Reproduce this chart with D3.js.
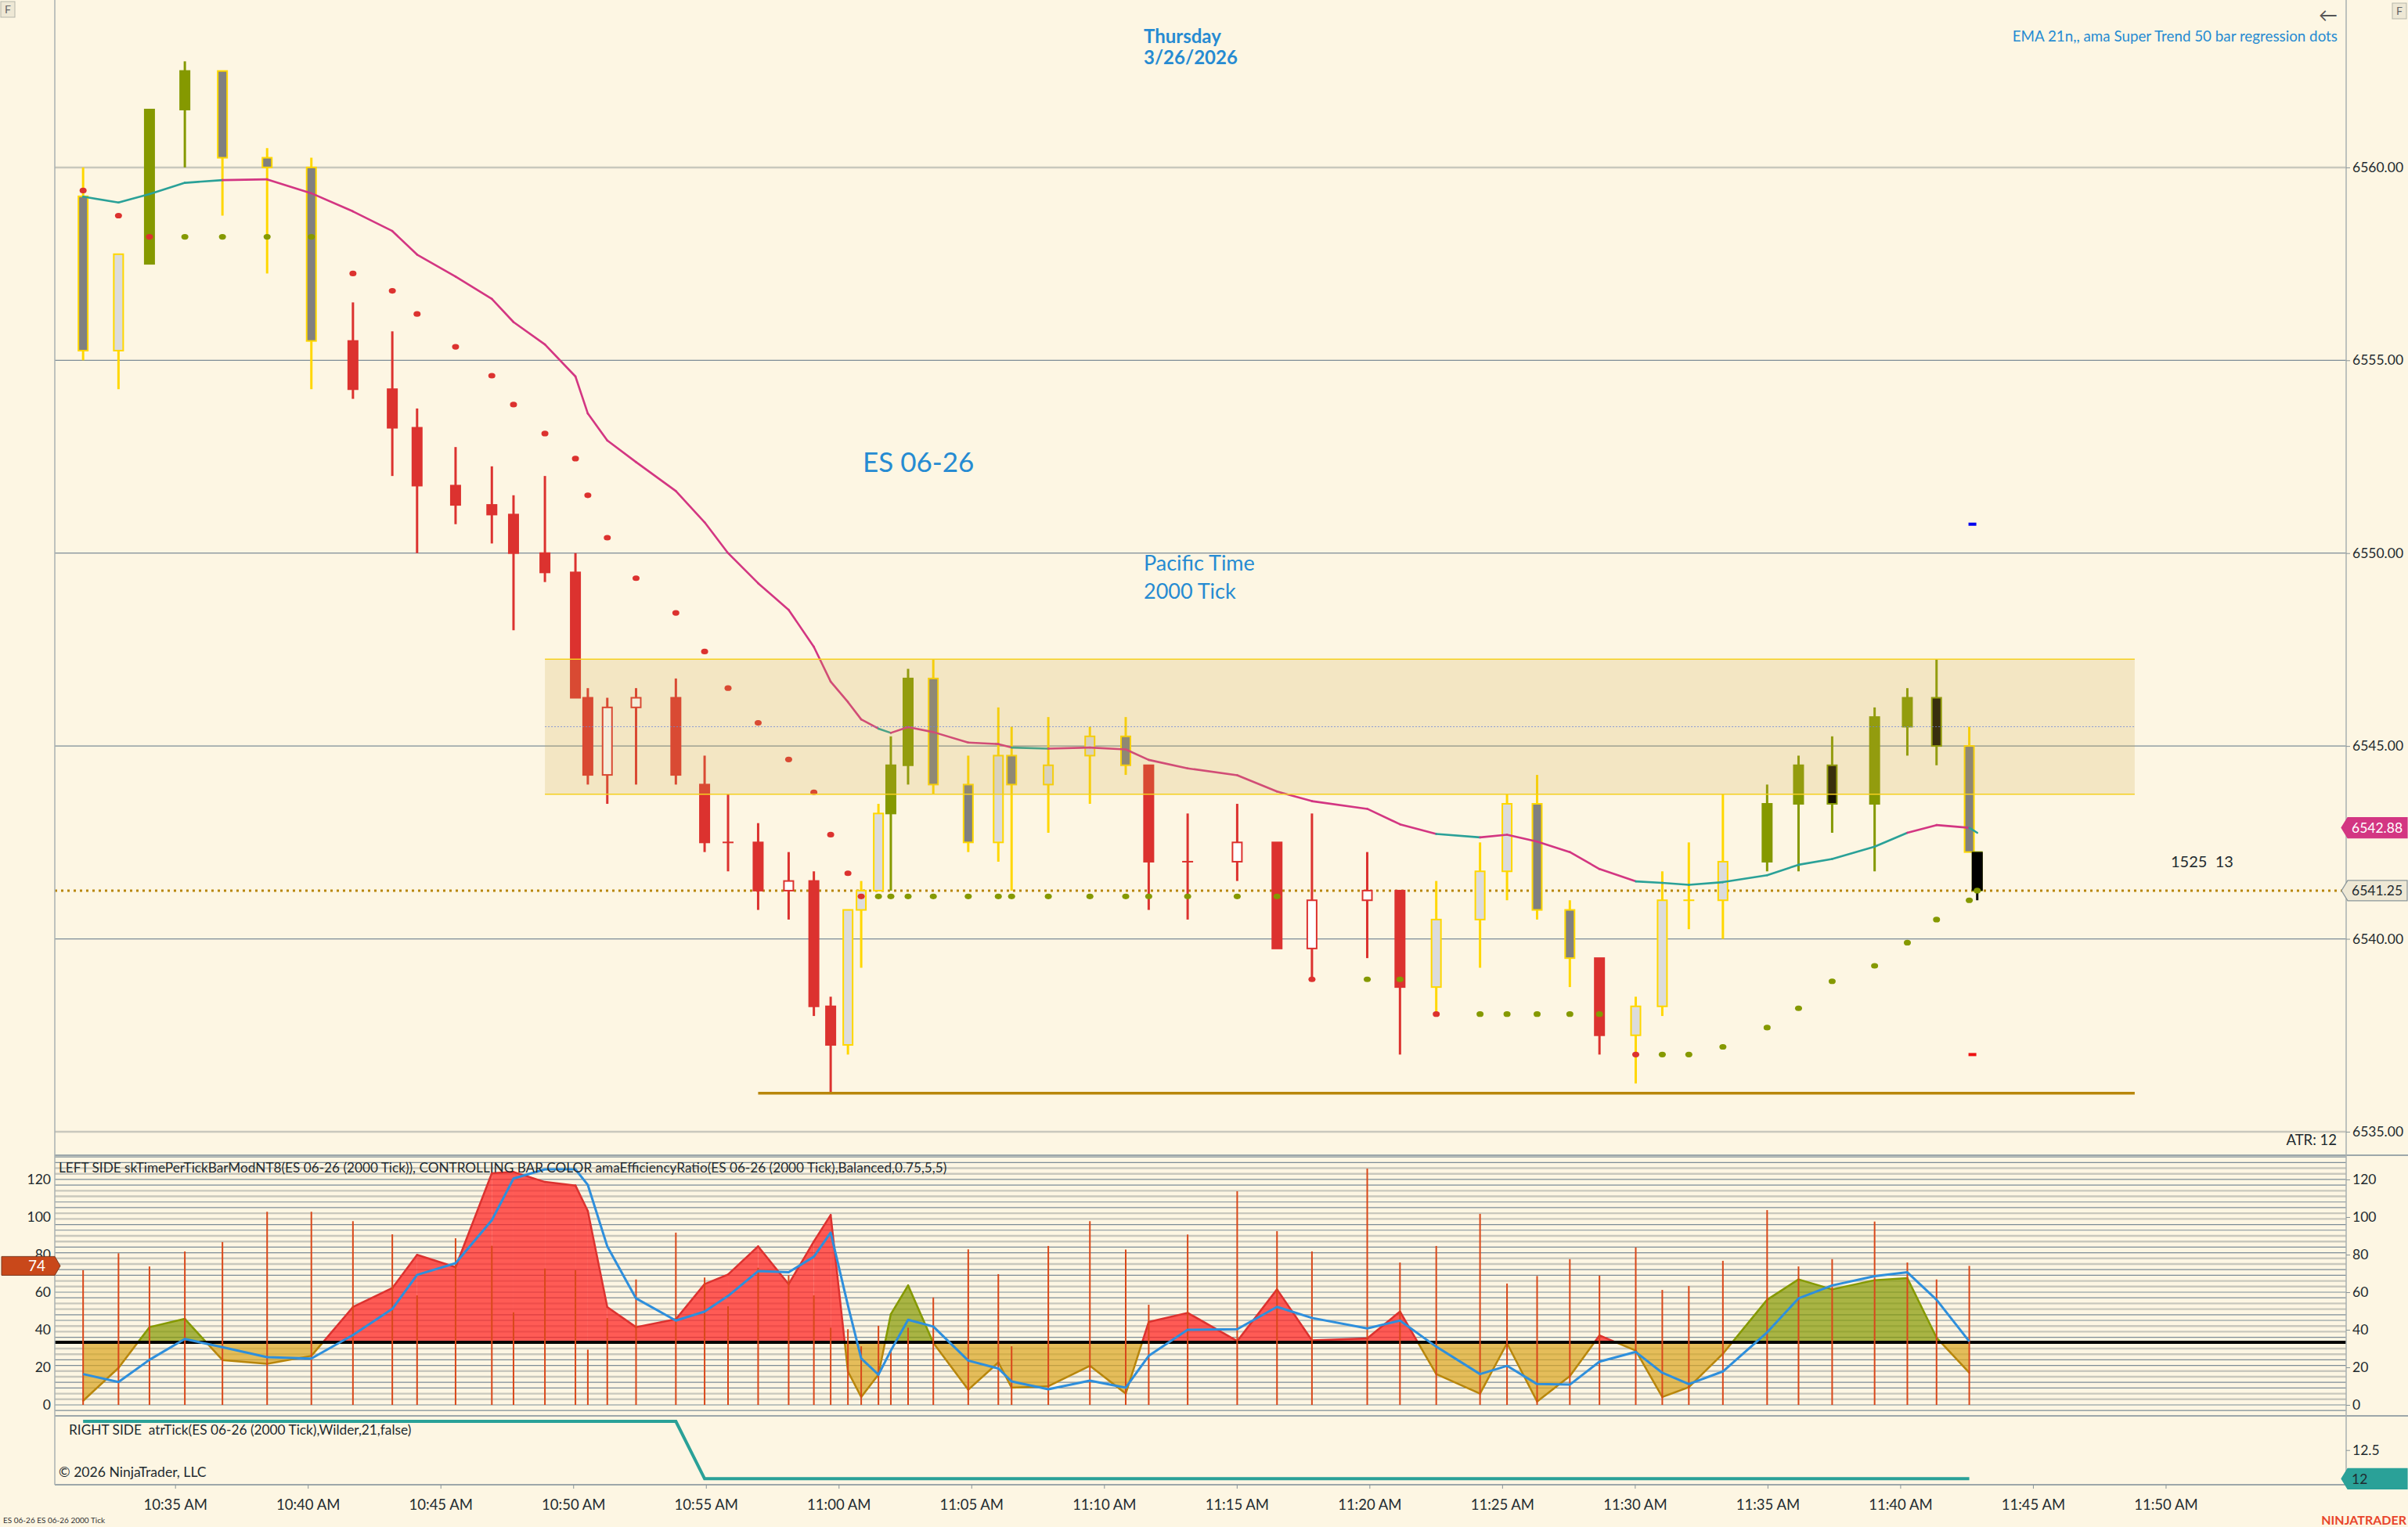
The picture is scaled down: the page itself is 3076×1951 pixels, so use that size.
<!DOCTYPE html>
<html>
<head>
<meta charset="utf-8">
<script src="https://cdn.jsdelivr.net/npm/d3@7"></script>
<style>
  body { margin: 0; background: #fdf6e3; }
  text { font-family: Lato, "Open Sans", sans-serif; }
</style>
</head>
<body>
<div id="chart"></div>
<script>
// ---- data ----
var barTimes = ['10:31:32','10:32:52','10:34:02','10:35:22','10:36:47','10:38:28','10:40:08','10:41:42','10:43:11','10:44:07',
  '10:45:34','10:46:56','10:47:45','10:48:56','10:50:05','10:50:33','10:51:17','10:52:22','10:53:52','10:54:57',
  '10:55:50','10:56:58','10:58:07','10:59:04','10:59:42','11:00:21','11:00:51','11:01:30','11:01:58','11:02:37',
  '11:03:34','11:04:53','11:06:01','11:06:31','11:07:54','11:09:28','11:10:49','11:11:41','11:13:09','11:15:01',
  '11:16:31','11:17:50','11:19:55','11:21:09','11:22:31','11:24:10','11:25:11','11:26:19','11:27:33','11:28:40',
  '11:30:02','11:31:02','11:32:02','11:33:19','11:34:59','11:36:10','11:37:26','11:39:02','11:40:16','11:41:22',
  '11:42:36','11:42:54'];

var opens = [6559.25,6555.25,6557.5,6561.5,6562.5,6560.25,6560,6555.5,6554.25,6553.25,
  6551.75,6551.25,6551,6550,6549.5,6546.25,6544.25,6546,6546.25,6544,
  6542.5,6542.5,6541.25,6541.5,6538.25,6537.25,6540.75,6541.25,6543.25,6544.5,
  6546.75,6544,6542.5,6544.75,6544,6544.75,6545.25,6544.5,6542,6542,
  6542.5,6539.75,6541,6541.25,6538.75,6540.5,6541.75,6543.5,6540.75,6539.5,
  6537.5,6538.25,6541,6541,6542,6543.5,6544.5,6543.5,6545.5,6546.25,
  6545,6542.25];
var highs = [6560,6557.75,6561.5,6562.75,6562.5,6560.5,6560.25,6556.5,6555.75,6553.75,
  6552.75,6552.25,6551.5,6552,6550,6546.5,6546.25,6546.5,6546.75,6544.75,
  6543.75,6543,6542.25,6541.75,6538.5,6540.75,6541.5,6543.5,6545.25,6547,
  6547.25,6544.75,6546,6545.5,6545.75,6545.5,6545.75,6544.5,6543.25,6543.5,
  6542.5,6543.25,6542.25,6541.25,6541.5,6542.5,6543.75,6544.25,6541,6539.5,
  6538.5,6541.75,6542.5,6543.75,6544,6544.75,6545.25,6546,6546.5,6547.25,
  6545.5,6542.25];
var lows = [6555,6554.25,6557.5,6560,6558.75,6557.25,6554.25,6554,6552,6550,
  6550.75,6550.25,6548,6549.25,6546.25,6544,6543.5,6544,6544,6542.25,
  6541.75,6540.75,6540.5,6538,6536,6537,6539.25,6541.25,6541.25,6544,
  6543.75,6542.25,6542,6541.25,6542.75,6543.5,6544.25,6540.75,6540.5,6541.5,
  6539.75,6539,6539.5,6537,6538,6539.25,6541,6540.5,6538.75,6537,
  6536.25,6538,6540.25,6540,6541.75,6541.75,6542.75,6541.75,6544.75,6544.5,
  6542.25,6541];
var closes = [6555.25,6557.75,6561.5,6562.5,6560.25,6560,6555.5,6554.25,6553.25,6551.75,
  6551.25,6551,6550,6549.5,6546.25,6544.25,6546,6546.25,6544.25,6542.5,
  6542.5,6541.25,6541.5,6538.25,6537.25,6540.75,6541.25,6543.25,6544.5,6546.75,
  6544,6542.5,6544.75,6544,6544.5,6545.25,6544.5,6542,6542,6542.5,
  6539.75,6541,6541.25,6538.75,6540.5,6541.75,6543.5,6540.75,6539.5,6537.5,
  6538.25,6541,6541,6542,6543.5,6544.5,6543.5,6545.75,6546.25,6545,
  6542.25,6541.25];

// efficiency-ratio regime per bar: B bull, S bear, N neutral
var regime = 'NNBBNNNSSSSSSSSSSSSSSSSSSNNNBBNNNNNNNSSSSSSSNNNNNSNNNNBBBBBBNB'.split('');

// super trend regression dots
var stDots = [6559.4,6558.75,6558.2,6558.2,6558.2,6558.2,6558.2,6557.25,6556.8,6556.2,
  6555.35,6554.6,6553.85,6553.1,6552.45,6551.5,6550.4,6549.35,6548.45,6547.45,
  6546.5,6545.6,6544.65,6543.8,6542.7,6541.7,6541.1,6541.1,6541.1,6541.1,
  6541.1,6541.1,6541.1,6541.1,6541.1,6541.1,6541.1,6541.1,6541.1,6541.1,
  6541.1,6538.95,6538.95,6538.95,6538.05,6538.05,6538.05,6538.05,6538.05,6538.05,
  6537,6537,6537,6537.2,6537.7,6538.2,6538.9,6539.3,6539.9,6540.5,
  6541,6541.25];
var stDir = [-1,-1,-1,1,1,1,1,
  -1,-1,-1,-1,-1,-1,-1,-1,-1,-1,
  -1,-1,-1,-1,-1,-1,-1,-1,-1,-1,
  1,1,1,1,1,1,1,1,1,1,1,1,1,1,
  -1,1,1,-1,1,1,1,1,1,-1,
  1,1,1,1,1,1,1,1,1,1,1];

// EMA 21 and its slope state
var ema21 = [6559.24,6559.09,6559.31,6559.6,6559.67,6559.69,6559.33,6558.86,6558.35,6557.74,
  6557.17,6556.59,6555.99,6555.41,6554.58,6553.62,6552.92,6552.36,6551.61,6550.8,
  6550.0,6549.22,6548.53,6547.57,6546.67,6546.14,6545.69,6545.45,6545.34,6545.49,
  6545.36,6545.09,6545.05,6544.96,6544.93,6544.96,6544.91,6544.64,6544.42,6544.24,
  6543.82,6543.57,6543.37,6542.97,6542.72,6542.63,6542.7,6542.52,6542.25,6541.81,
  6541.49,6541.45,6541.4,6541.47,6541.65,6541.92,6542.07,6542.39,6542.75,6542.95,
  6542.88,6542.75];
var emaSlope = [1,1,1,1,1,-1,
  -1,-1,-1,-1,-1,-1,-1,-1,-1,-1,
  -1,-1,-1,-1,-1,-1,-1,-1,-1,-1,
  -1,-1,
  1,
  -1,-1,-1,-1,-1,
  1,
  -1,-1,-1,-1,-1,-1,-1,-1,-1,-1,
  1,
  -1,-1,-1,-1,-1,
  1,1,1,1,1,1,1,1,
  -1,-1,
  1];

// lower panels (computed on closed bars only)
var timePerTick = [71.7,80.7,73.7,81.7,86.7,102.8,102.8,97.8,90.8,58.3,
  88.7,84.7,49.3,72.6,71.7,29.4,46.2,66.8,91.7,67.8,
  52.5,73,69,58.3,41.1,40.3,31.2,42.1,29.2,41.1,
  57.2,82.8,69.6,31.2,84.6,97.8,82.7,53.3,90.7,113.7,
  92.5,81.7,125.8,75.8,84.6,101.7,64.6,68.6,77.6,68.8,
  83.8,61.2,63.3,76.7,103.7,73.7,77.6,97.6,75.8,66.8,
  74];
var effRatio = [2.2,19.7,41.4,45.8,23.9,21.9,26.1,52.1,62.2,79.9,
  73.3,123.3,124,118.7,116.8,103.2,52.1,41.4,45.6,64.3,
  69.4,84.4,64.3,87,101.1,17.8,4.2,16.1,48.3,63.6,
  33,8.1,22.6,9.2,9.9,20.8,6,44.2,49,34,
  61.5,34.4,35.4,49.7,16.4,6,32.8,1.8,15.3,37,
  28.9,4.2,9.4,27.2,56,66.8,61.5,66.4,67.5,35.8,
  17.1];
var effSmooth = [16.4,12.2,24,35.1,30.7,25.4,24.7,37.2,51.1,69.2,
  75.4,98.3,120.5,125.4,125.4,117.1,84.4,56.7,44.9,49.7,
  58,71.2,70.6,78.9,91.7,53,24.7,16.1,28.9,45.3,
  41.7,23.6,19.4,12.5,8.3,12.9,9.2,26.1,40,40.3,
  52.2,46.3,40.7,44.9,31,16.4,20.8,11.1,10.8,23,
  28.2,17.1,11.1,17.8,38.6,56.7,63.6,68.5,70.6,56,
  33.8];
var atrTicks = [13,13,13,13,13,13,13,13,13,13,
  13,13,13,13,13,13,13,13,13,12,
  12,12,12,12,12,12,12,12,12,12,
  12,12,12,12,12,12,12,12,12,12,
  12,12,12,12,12,12,12,12,12,12,
  12,12,12,12,12,12,12,12,12,12,
  12];
var erThreshold = 33.3;

// drawn objects and axis values
var zone = {start: '10:48:56', end: '11:48:50', top: 6547.25, mid: 6545.5, bottom: 6543.75};
var support = {start: '10:56:58', end: '11:48:50', price: 6536};
var projHigh = 6550.75, projLow = 6537;
var priceTicks = [6535, 6540, 6545, 6550, 6555, 6560];
var indTicks = [0, 20, 40, 60, 80, 100, 120];
var timeLabels = ['10:35','10:40','10:45','10:50','10:55','11:00','11:05','11:10','11:15','11:20','11:25','11:30','11:35','11:40','11:45','11:50'];

// ---- setup ----
var W = 3076, H = 1951;
var left = 70, right = 2997;
var parseT = d3.timeParse('%Y-%m-%d %H:%M:%S');
function t(s) { return parseT('2026-03-26 ' + (s.length === 5 ? s + ':00' : s)); }

var bars = barTimes.map(function(s, i) {
  return {t: t(s), o: opens[i], h: highs[i], l: lows[i], c: closes[i], r: regime[i],
    st: stDots[i], sd: stDir[i], ema: ema21[i], es: emaSlope[i]};
});
var ind = timePerTick.map(function(v, i) {
  return {t: bars[i].t, tpt: v, er: effRatio[i], sm: effSmooth[i], atr: atrTicks[i], r: regime[i]};
});

var x = d3.scaleTime().domain([t('10:30:28'), t('11:56:48')]).range([left, right]);
var y = d3.scaleLinear().domain([6534.39, 6564.34]).range([1476, 0]);
var yI = d3.scaleLinear().domain([-5.83, 132.9]).range([1809, 1476]);
var yA = d3.scaleLinear().domain([11.895, 13.097]).range([1897, 1809]);

var svg = d3.select('#chart').append('svg')
  .attr('width', W).attr('height', H)
  .style('display', 'block')
  .style('background', '#fdf6e3');

var SLATE = '#7d8d97', LIGHT = '#c9c8bd';

// ---- price panel ----
svg.append('g').selectAll('line').data(priceTicks).enter().append('line')
  .attr('x1', left).attr('x2', right)
  .attr('y1', function(d) { return y(d); }).attr('y2', function(d) { return y(d); })
  .attr('stroke', function(d) { return (d === 6560 || d === 6535) ? LIGHT : SLATE; })
  .attr('stroke-width', function(d) { return (d === 6560 || d === 6535) ? 2.5 : 1.2; });

// last price dotted line
var lastClose = closes[closes.length - 1];
svg.append('line')
  .attr('x1', left).attr('x2', right - 6)
  .attr('y1', y(lastClose)).attr('y2', y(lastClose))
  .attr('stroke', '#b8860b').attr('stroke-width', 3).attr('stroke-dasharray', '3,5');

var regimeStroke = {B: '#859900', N: '#ffd700', S: '#dc322f'};
var upFill = {B: '#859900', N: '#dcdcdc', S: '#ffffff'};
var downFill = {B: '#141100', N: '#808080', S: '#dc322f'};

var candles = svg.append('g').selectAll('g').data(bars).enter().append('g');
candles.append('line')
  .attr('x1', function(d) { return x(d.t); }).attr('x2', function(d) { return x(d.t); })
  .attr('y1', function(d) { return y(d.h); }).attr('y2', function(d) { return y(d.l); })
  .attr('stroke', function(d, i) { return i === bars.length - 1 ? '#000' : regimeStroke[d.r]; })
  .attr('stroke-width', 3);
candles.filter(function(d) { return d.o !== d.c; }).append('rect')
  .attr('x', function(d) { return x(d.t) - 6; })
  .attr('width', 12)
  .attr('y', function(d) { return y(Math.max(d.o, d.c)); })
  .attr('height', function(d) { return Math.abs(y(d.o) - y(d.c)); })
  .attr('fill', function(d) { return d.c > d.o ? upFill[d.r] : downFill[d.r]; })
  .attr('stroke', function(d) { return regimeStroke[d.r]; })
  .attr('stroke-width', 2);
candles.filter(function(d) { return d.o === d.c; }).append('line')
  .attr('x1', function(d) { return x(d.t) - 7; }).attr('x2', function(d) { return x(d.t) + 7; })
  .attr('y1', function(d) { return y(d.c); }).attr('y2', function(d) { return y(d.c); })
  .attr('stroke', function(d) { return regimeStroke[d.r]; })
  .attr('stroke-width', 2);
// last (forming) bar in black
var lastBar = bars[bars.length - 1];
svg.append('rect')
  .attr('x', x(lastBar.t) - 7).attr('width', 14)
  .attr('y', y(lastBar.o)).attr('height', y(lastBar.c) - y(lastBar.o))
  .attr('fill', '#000');

// super trend dots
svg.append('g').selectAll('ellipse').data(bars).enter().append('ellipse')
  .attr('cx', function(d) { return x(d.t); })
  .attr('cy', function(d) { return y(d.st); })
  .attr('rx', 4.5).attr('ry', 3.6)
  .attr('fill', function(d) { return d.sd > 0 ? '#859900' : '#dc322f'; });

// EMA 21, coloured by slope
var emaG = svg.append('g');
for (var i = 1; i < bars.length; i++) {
  emaG.append('line')
    .attr('x1', x(bars[i - 1].t)).attr('y1', y(bars[i - 1].ema))
    .attr('x2', x(bars[i].t)).attr('y2', y(bars[i].ema))
    .attr('stroke', bars[i].es > 0 ? '#2aa198' : '#d33682')
    .attr('stroke-width', 2.6).attr('stroke-linecap', 'round');
}

// zone rectangle (drawn over the bars)
svg.append('rect')
  .attr('x', x(t(zone.start))).attr('width', x(t(zone.end)) - x(t(zone.start)))
  .attr('y', y(zone.top)).attr('height', y(zone.bottom) - y(zone.top))
  .attr('fill', 'rgb(206,168,70)').attr('fill-opacity', 0.2);
[zone.top, zone.bottom].forEach(function(p) {
  svg.append('line')
    .attr('x1', x(t(zone.start))).attr('x2', x(t(zone.end)))
    .attr('y1', y(p)).attr('y2', y(p))
    .attr('stroke', '#f5d020').attr('stroke-width', 1.6);
});
svg.append('line')
  .attr('x1', x(t(zone.start))).attr('x2', x(t(zone.end)))
  .attr('y1', y(zone.mid)).attr('y2', y(zone.mid))
  .attr('stroke', '#6f86d6').attr('stroke-width', 0.8).attr('stroke-dasharray', '2,2');

// support line
svg.append('line')
  .attr('x1', x(t(support.start))).attr('x2', x(t(support.end)))
  .attr('y1', y(support.price)).attr('y2', y(support.price))
  .attr('stroke', '#b8860b').attr('stroke-width', 3.5);

// projected high / low dashes
var projX = x(bars[bars.length - 2].t) + 4;
svg.append('rect').attr('x', projX - 5).attr('width', 10)
  .attr('y', y(projHigh) - 2).attr('height', 4).attr('fill', '#0000ee');
svg.append('rect').attr('x', projX - 5).attr('width', 10)
  .attr('y', y(projLow) - 2).attr('height', 4).attr('fill', '#ee1111');

// ---- indicator panel ----
var hl = d3.range(-3, 133, 3);
svg.append('g').selectAll('line').data(hl).enter().append('line')
  .attr('x1', left).attr('x2', right)
  .attr('y1', function(d) { return yI(d); }).attr('y2', function(d) { return yI(d); })
  .attr('stroke', function(d, k) { return Math.floor(k / 2) % 2 ? LIGHT : SLATE; })
  .attr('stroke-width', function(d, k) { return Math.floor(k / 2) % 2 ? 2.4 : 1.2; });

var areaFill = {S: 'rgba(255,30,30,0.72)', B: 'rgba(133,153,0,0.7)', N: 'rgba(218,165,32,0.7)'};
var areaEdge = {S: '#dc322f', B: '#859900', N: '#b8860b'};
var areaG = svg.append('g'), edgeG = svg.append('g');
for (var j = 1; j < ind.length; j++) {
  var a = {x: x(ind[j - 1].t), v: ind[j - 1].er, r: ind[j - 1].r};
  var b = {x: x(ind[j].t), v: ind[j].er, r: ind[j].r};
  var pieces = [];
  if ((a.v - erThreshold) * (b.v - erThreshold) < 0) {
    var f = (erThreshold - a.v) / (b.v - a.v);
    var m = {x: a.x + f * (b.x - a.x), v: erThreshold, r: null};
    pieces.push([a, m], [m, b]);
  } else {
    pieces.push([a, b]);
  }
  pieces.forEach(function(pq) {
    var p = pq[0], q = pq[1];
    var kind = 'N';
    if ((p.v + q.v) / 2 > erThreshold) {
      kind = (q.r && q.r !== 'N') ? q.r : ((p.r && p.r !== 'N') ? p.r : (b.r !== 'N' ? b.r : a.r));
      if (kind === 'N') kind = 'S';
    }
    areaG.append('path')
      .attr('d', d3.line()([[p.x, yI(p.v)], [q.x, yI(q.v)], [q.x, yI(erThreshold)], [p.x, yI(erThreshold)]]) + 'Z')
      .attr('fill', areaFill[kind]);
    edgeG.append('line')
      .attr('x1', p.x).attr('y1', yI(p.v)).attr('x2', q.x).attr('y2', yI(q.v))
      .attr('stroke', areaEdge[kind]).attr('stroke-width', 2.5).attr('stroke-linecap', 'round');
  });
}

// threshold line
svg.append('line')
  .attr('x1', left).attr('x2', right)
  .attr('y1', yI(erThreshold)).attr('y2', yI(erThreshold))
  .attr('stroke', '#000').attr('stroke-width', 4);

// time per tick spikes
svg.append('g').selectAll('line').data(ind).enter().append('line')
  .attr('x1', function(d) { return x(d.t); }).attr('x2', function(d) { return x(d.t); })
  .attr('y1', yI(0)).attr('y2', function(d) { return yI(d.tpt); })
  .attr('stroke', '#d9481a').attr('stroke-width', 2);

// smoothed line
svg.append('path').datum(ind)
  .attr('d', d3.line().x(function(d) { return x(d.t); }).y(function(d) { return yI(d.sm); }))
  .attr('fill', 'none').attr('stroke', '#2e8fdc').attr('stroke-width', 3).attr('stroke-linejoin', 'round');

// ---- ATR panel ----
svg.append('path').datum(ind)
  .attr('d', d3.line().x(function(d) { return x(d.t); }).y(function(d) { return yA(d.atr); }))
  .attr('fill', 'none').attr('stroke', '#2aa198').attr('stroke-width', 4);

// ---- frame lines ----
[1476, 1809].forEach(function(yy) {
  svg.append('line').attr('x1', left).attr('x2', W).attr('y1', yy).attr('y2', yy)
    .attr('stroke', SLATE).attr('stroke-width', 1.5);
});
svg.append('line').attr('x1', left).attr('x2', right).attr('y1', 1897).attr('y2', 1897)
  .attr('stroke', SLATE).attr('stroke-width', 1.5);
[left, right].forEach(function(xx) {
  svg.append('line').attr('x1', xx).attr('x2', xx).attr('y1', 0).attr('y2', 1897)
    .attr('stroke', '#a9b0b0').attr('stroke-width', 1.5);
});

// ---- axes ----
var priceAxis = d3.axisRight(y).tickValues(priceTicks).tickFormat(d3.format('.2f')).tickSize(5).tickPadding(3);
var gP = svg.append('g').attr('transform', 'translate(' + right + ',0)').call(priceAxis);
var indAxisR = d3.axisRight(yI).tickValues(indTicks).tickSize(5).tickPadding(3);
var gIR = svg.append('g').attr('transform', 'translate(' + right + ',0)').call(indAxisR);
var indAxisL = d3.axisLeft(yI).tickValues(indTicks).tickSize(0).tickPadding(5);
var gIL = svg.append('g').attr('transform', 'translate(' + left + ',0)').call(indAxisL);
var atrAxis = d3.axisRight(yA).tickValues([12.5]).tickSize(5).tickPadding(3);
var gA = svg.append('g').attr('transform', 'translate(' + right + ',0)').call(atrAxis);
var timeAxis = d3.axisBottom(x).tickValues(timeLabels.map(t)).tickFormat(d3.timeFormat('%-I:%M %p')).tickSize(5).tickPadding(14);
var gX = svg.append('g').attr('transform', 'translate(0,1897)').call(timeAxis);
[gP, gIR, gIL, gA, gX].forEach(function(g) {
  g.select('.domain').remove();
  g.selectAll('line').attr('stroke', '#8a9599');
  g.selectAll('text').attr('font-size', 17.5).attr('fill', '#1f2b30').attr('font-family', 'Lato, sans-serif');
});
gX.selectAll('text').attr('font-size', 18.5);

// ---- badges ----
function rightBadge(yy, label, bg, fg, border) {
  var g = svg.append('g');
  g.append('path')
    .attr('d', 'M' + (right - 6) + ',' + yy + ' L' + (right + 2) + ',' + (yy - 13) + ' L' + (W - 1) + ',' + (yy - 13) +
      ' L' + (W - 1) + ',' + (yy + 13) + ' L' + (right + 2) + ',' + (yy + 13) + ' Z')
    .attr('fill', bg).attr('stroke', border || bg).attr('stroke-width', 1.2);
  g.append('text').attr('x', right + 7).attr('y', yy).attr('dy', '0.36em')
    .attr('font-size', 17.5).attr('fill', fg).text(label);
}
rightBadge(y(ema21[ind.length - 1]), d3.format('.2f')(ema21[ind.length - 1]), '#d33682', '#ffffff');
rightBadge(y(lastClose), d3.format('.2f')(lastClose), '#eee8d5', '#1f2b30', '#8a9599');
rightBadge(yA(atrTicks[atrTicks.length - 1]), String(atrTicks[atrTicks.length - 1]), '#2aa198', '#1f2b30');

var lastTpt = timePerTick[timePerTick.length - 1];
var ly = yI(lastTpt);
svg.append('path')
  .attr('d', 'M2,' + (ly - 12) + ' L' + (left) + ',' + (ly - 12) + ' L' + (left + 7) + ',' + ly +
    ' L' + left + ',' + (ly + 12) + ' L2,' + (ly + 12) + ' Z')
  .attr('fill', '#c9481a').attr('stroke', '#7a3a20').attr('stroke-width', 1);
svg.append('text').attr('x', 58).attr('y', ly).attr('dy', '0.36em').attr('text-anchor', 'end')
  .attr('font-size', 19).attr('fill', '#ffffff').text(d3.format('d')(lastTpt));

// ---- texts ----
function label(xx, yy, s, size, color, opts) {
  opts = opts || {};
  return svg.append('text').attr('x', xx).attr('y', yy)
    .attr('font-size', size).attr('fill', color)
    .attr('text-anchor', opts.anchor || 'start')
    .attr('font-family', opts.family || 'Lato, sans-serif')
    .attr('font-weight', opts.weight || 'normal')
    .style('white-space', 'pre')
    .text(s);
}
var BLUE = '#268bd2';
var SERIF = '"Liberation Serif", "DejaVu Serif", serif';
label(1461, 55, 'Thursday', 24, BLUE, {family: SERIF, weight: 'bold'});
label(1461, 82, '3/26/2026', 24, BLUE, {family: SERIF, weight: 'bold'});
label(1102, 603, 'ES 06-26', 35, BLUE);
label(1461, 729, 'Pacific Time', 27, BLUE);
label(1461, 765, '2000 Tick', 27, BLUE);
label(2986, 53, 'EMA 21n,, ama Super Trend 50 bar regression dots', 18.8, BLUE, {anchor: 'end'});
label(2986, 28, '\u2190', 24, '#555', {anchor: 'end'});
label(2773, 1108, '1525  13', 20, '#1f2b30', {family: '"Liberation Sans", Arial, sans-serif'});
label(2985, 1463, 'ATR: 12', 18.5, '#1f2b30', {anchor: 'end'});
label(75, 1498, 'LEFT SIDE skTimePerTickBarModNT8(ES 06-26 (2000 Tick)), CONTROLLING BAR COLOR amaEfficiencyRatio(ES 06-26 (2000 Tick),Balanced,0.75,5,5)', 17.2, '#1f2b30');
label(88, 1833, 'RIGHT SIDE  atrTick(ES 06-26 (2000 Tick),Wilder,21,false)', 17.3, '#1f2b30');
label(75, 1887, '\u00a9 2026 NinjaTrader, LLC', 17.6, '#1f2b30');
label(4, 1946, 'ES 06-26 ES 06-26 2000 Tick', 10, '#333');
label(3074, 1948, 'NINJATRADER', 16, '#e8452c', {anchor: 'end', weight: 'bold'});

// corner "F" buttons
[[1, 2], [3056, 4]].forEach(function(p) {
  svg.append('rect').attr('x', p[0]).attr('y', p[1]).attr('width', 18).attr('height', 20)
    .attr('fill', '#eee8d5').attr('stroke', '#b5b5aa');
  svg.append('text').attr('x', p[0] + 9).attr('y', p[1] + 15).attr('text-anchor', 'middle')
    .attr('font-size', 14).attr('fill', '#666').text('F');
});
</script>
</body>
</html>
